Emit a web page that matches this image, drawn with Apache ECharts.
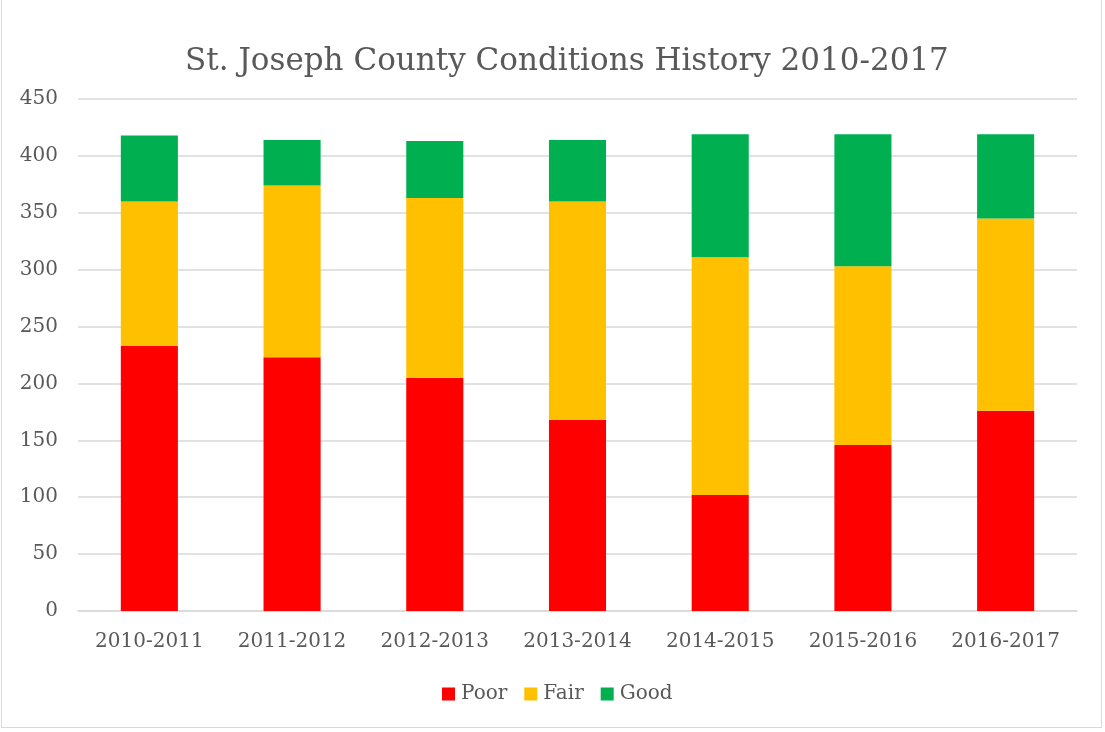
<!DOCTYPE html>
<html>
<head>
<meta charset="utf-8">
<script src="https://cdn.jsdelivr.net/npm/echarts@6/dist/echarts.min.js"></script>
<style>
html,body{margin:0;padding:0;background:#fff;}
#frame{position:absolute;left:1px;top:-1px;width:1101px;height:729px;border:1px solid #d9d9d9;box-sizing:border-box;}
#chart{position:absolute;left:0;top:0;width:1105px;height:732px;}
</style>
</head>
<body>
<div id="frame"></div>
<div id="chart"></div>
<script>
const categories = ['2010-2011','2011-2012','2012-2013','2013-2014','2014-2015','2015-2016','2016-2017'];
const poor = [233, 223, 205, 168, 102, 146, 176];
const fair = [127, 151, 158, 192, 209, 157, 169];
const good = [58, 40, 50, 54, 108, 116, 74];
const yTicks = [0, 50, 100, 150, 200, 250, 300, 350, 400, 450];

const FONT = 'DejaVu Serif';
const TXT = '#595959';
const chart = echarts.init(document.getElementById('chart'));
chart.setOption({
  animation: false,
  backgroundColor: 'transparent',
  title: {
    text: 'St. Joseph County Conditions History 2010-2017',
    left: 180, top: 41,
    textStyle: { fontFamily: FONT, fontSize: 31, fontWeight: 'normal', color: TXT }
  },
  legend: {
    bottom: 23, left: 437,
    itemWidth: 13, itemHeight: 13, itemGap: 17,
    icon: 'rect',
    textStyle: { fontFamily: FONT, fontSize: 20, color: TXT, padding: [0,0,0,1] },
    data: ['Poor','Fair','Good']
  },
  grid: { left: 78, right: 28, top: 99, bottom: 121, containLabel: false },
  xAxis: {
    type: 'category', data: categories,
    axisLine: { lineStyle: { color: '#d9d9d9', width: 1.5 } },
    axisTick: { show: false },
    axisLabel: { fontFamily: FONT, fontSize: 20, color: TXT, margin: 21 }
  },
  yAxis: {
    type: 'value', min: yTicks[0], max: yTicks[yTicks.length-1], interval: 50,
    axisLine: { show: false }, axisTick: { show: false },
    splitLine: { lineStyle: { color: '#d9d9d9', width: 1.5 } },
    axisLabel: { fontFamily: FONT, fontSize: 20, color: TXT, margin: 20 }
  },
  series: [
    { name: 'Poor', type: 'bar', stack: 'a', data: poor, itemStyle: { color: '#ff0000' }, barCategoryGap: '60%' },
    { name: 'Fair', type: 'bar', stack: 'a', data: fair, itemStyle: { color: '#ffc000' } },
    { name: 'Good', type: 'bar', stack: 'a', data: good, itemStyle: { color: '#00b050' } }
  ]
});
</script>
</body>
</html>
